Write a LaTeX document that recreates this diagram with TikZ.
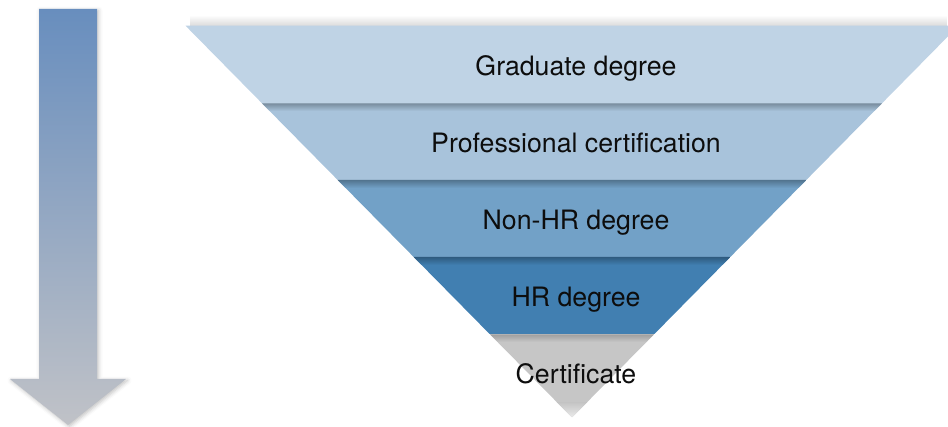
\documentclass[tikz,border=0pt]{standalone}
\usepackage{fontspec}
\setmainfont{TeX Gyre Heros}
\usetikzlibrary{shadows.blur,fadings}
\definecolor{bandA}{RGB}{191,211,229}
\definecolor{bandB}{RGB}{168,195,219}
\definecolor{bandC}{RGB}{114,161,199}
\definecolor{bandD}{RGB}{65,127,177}
\definecolor{bandE}{RGB}{198,198,198}
\definecolor{arrowTop}{RGB}{104,142,190}
\definecolor{arrowBot}{RGB}{192,194,199}
\begin{document}
\begin{tikzpicture}[x=1pt,y=-1pt,
  lbl/.style={font=\fontsize{26.7}{31}\selectfont, text=black!95, inner sep=0pt, anchor=base}]
\useasboundingbox (0,0) rectangle (948,427);
% shadow above the top band
\fill[black, opacity=0.14, path fading=north] (190,15) rectangle (948,25.7);
% bands
\fill[bandA] (185.5,25.7) -- (958.5,25.7) -- (882,103.3) -- (262,103.3) -- cycle;
\begin{scope}
  \clip (262,103.3) -- (882,103.3) -- (806.3,180) -- (337.7,180) -- cycle;
  \fill[bandB] (262,103.3) rectangle (882,180);
  \shade[top color=bandB!72!black, bottom color=bandB] (262,103.3) rectangle (882,111);
\end{scope}
\begin{scope}
  \clip (337.7,180) -- (806.3,180) -- (730.3,257) -- (413.7,257) -- cycle;
  \fill[bandC] (337.7,180) rectangle (806.3,257);
  \shade[top color=bandC!72!black, bottom color=bandC] (337.7,180) rectangle (806.3,188);
\end{scope}
\begin{scope}
  \clip (413.7,257) -- (730.3,257) -- (654.1,334.3) -- (489.9,334.3) -- cycle;
  \fill[bandD] (413.7,257) rectangle (730.3,334.3);
  \shade[top color=bandD!72!black, bottom color=bandD] (413.7,257) rectangle (730.3,265);
\end{scope}
\begin{scope}
  \clip (489.9,334.3) -- (654.1,334.3) -- (572,417.5) -- cycle;
  \fill[bandE] (489.9,334.3) rectangle (654.1,417.5);
  \shade[top color=bandE!80!black, bottom color=bandE] (489.9,334.3) rectangle (654.1,342);
  \shade[top color=bandE, bottom color=bandE!35!white] (489.9,403) rectangle (654.1,417.5);
\end{scope}
% arrow
\shade[top color=arrowTop, bottom color=arrowBot,
  blur shadow={shadow xshift=1.5pt, shadow yshift=-1.5pt, shadow opacity=25, shadow blur radius=4pt}]
  (39,9) -- (97,9) -- (97,379) -- (126,379) -- (68,425) -- (10,379) -- (39,379) -- cycle;
% labels
\node[lbl] (grad) at (576,75.3) {Graduate degree};
\node[lbl] (prof) at (576,152.3) {Professional certification};
\node[lbl] (nonhr) at (576,229.3) {Non-HR degree};
\node[lbl] (hr) at (576,306.5) {HR degree};
\node[lbl] (cert) at (576,383.3) {Certificate};
\end{tikzpicture}
\end{document}
